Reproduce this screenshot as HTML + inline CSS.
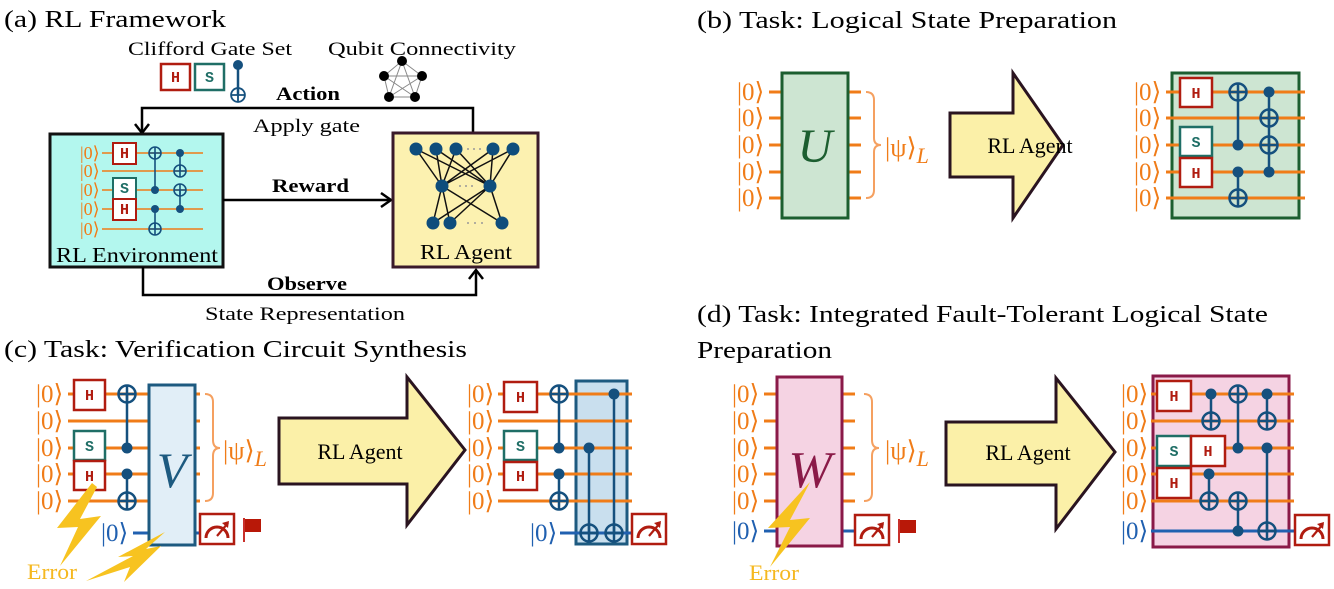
<!DOCTYPE html>
<html><head><meta charset="utf-8"><style>
html,body{margin:0;padding:0;background:#fff;}
svg{display:block;}
text{font-family:"Liberation Serif",serif;}
.g{font-family:"Liberation Mono",monospace;font-weight:bold;font-size:15px;text-anchor:middle;}
.k{font-size:25px;fill:#f07c18;}
.kb{font-size:25px;fill:#2060b0;}
.w{stroke:#f07c18;stroke-width:3;}
.wt{stroke:#f07c18;stroke-width:1.5;}
.c{stroke:#15507e;stroke-width:2.5;}
</style></head><body>
<svg width="1334" height="589" viewBox="0 0 1334 589" xmlns="http://www.w3.org/2000/svg">
<defs>
<g id="p"><circle r="8.5" fill="none" stroke="#15507e" stroke-width="2.5"/><path d="M-8.5 0H8.5M0 -8.5V8.5" stroke="#15507e" stroke-width="2.5"/></g>
<g id="d"><circle r="5.5" fill="#15507e"/></g>
<g id="ps"><circle r="6" fill="none" stroke="#15507e" stroke-width="1.6"/><path d="M-6 0H6M0 -6V6" stroke="#15507e" stroke-width="1.6"/></g>
<g id="ds"><circle r="4" fill="#15507e"/></g>
<g id="m"><rect x="0" y="0" width="34" height="30" fill="#fff" stroke="#b01c10" stroke-width="2.5"/><path d="M6 24 A11 11 0 0 1 28 24" fill="none" stroke="#b01c10" stroke-width="3"/><path d="M17 22 L28 9" stroke="#b01c10" stroke-width="2.2"/><path d="M22 9 L29 7 L28 14Z" fill="#b01c10"/></g>
<g id="f"><path d="M0 0V24" stroke="#c9302a" stroke-width="2"/><rect x="1" y="1" width="16" height="13" fill="#b81808"/></g>
</defs>

<!-- ===== (a) ===== -->
<text x="4" y="27" font-size="24" textLength="222" lengthAdjust="spacingAndGlyphs">(a) RL Framework</text>
<text x="128" y="55" font-size="19" textLength="164" lengthAdjust="spacingAndGlyphs">Clifford Gate Set</text>
<text x="328" y="55" font-size="19" textLength="188" lengthAdjust="spacingAndGlyphs">Qubit Connectivity</text>
<rect x="161" y="64" width="29" height="26" fill="#fff" stroke="#b01c10" stroke-width="2.5"/><text x="175.5" y="82" class="g" fill="#b01c10" font-size="12">H</text>
<rect x="195" y="64" width="29" height="26" fill="#fff" stroke="#1f6e66" stroke-width="2.5"/><text x="209.5" y="82" class="g" fill="#1f6e66" font-size="12">S</text>
<path d="M238 65V95" class="c"/><circle cx="238" cy="65" r="5" fill="#15507e"/><use href="#ps" transform="translate(238,95) scale(1.15)"/>
<g stroke="#888" stroke-width="1" fill="none">
<path d="M402 61L384 76L389 97L415 97L422 76Z M402 61L389 97 M402 61L415 97 M384 76L422 76 M384 76L415 97 M422 76L389 97"/>
</g>
<g fill="#000"><circle cx="402" cy="61" r="5"/><circle cx="384" cy="76" r="5"/><circle cx="422" cy="76" r="5"/><circle cx="389" cy="97" r="5"/><circle cx="415" cy="97" r="5"/></g>

<text x="276" y="100" font-size="19" font-weight="bold" textLength="64" lengthAdjust="spacingAndGlyphs">Action</text>
<path d="M473 133V108H142V132" fill="none" stroke="#000" stroke-width="2.5"/>
<path d="M135 124L142 133L149 124" fill="none" stroke="#000" stroke-width="2.5"/>
<text x="253" y="132" font-size="19" textLength="107" lengthAdjust="spacingAndGlyphs">Apply gate</text>

<rect x="50" y="134" width="173" height="133" fill="#b3f7ee" stroke="#111" stroke-width="3"/>
<g font-size="18" fill="#f07c18">
<text x="80" y="159">|0⟩</text><text x="80" y="177">|0⟩</text><text x="80" y="196">|0⟩</text><text x="80" y="215">|0⟩</text><text x="80" y="235">|0⟩</text></g>
<g class="wt"><path d="M102 153H203M102 171H203M102 190H203M102 209H203M102 229H203"/></g>
<rect x="113" y="143" width="23" height="21" fill="#fff" stroke="#b01c10" stroke-width="2"/><text x="124.5" y="158" class="g" fill="#b01c10" font-size="11">H</text>
<rect x="113" y="178" width="23" height="21" fill="#fff" stroke="#1f6e66" stroke-width="2"/><text x="124.5" y="193" class="g" fill="#1f6e66" font-size="11">S</text>
<rect x="113" y="199" width="23" height="21" fill="#fff" stroke="#b01c10" stroke-width="2"/><text x="124.5" y="214" class="g" fill="#b01c10" font-size="11">H</text>
<path d="M155 153V190M155 209V229M180 153V171M180 190V209" stroke="#15507e" stroke-width="1.6"/>
<use href="#ps" x="155" y="153"/><use href="#ds" x="155" y="190"/><use href="#ds" x="155" y="209"/><use href="#ps" x="155" y="229"/>
<use href="#ds" x="180" y="153"/><use href="#ps" x="180" y="171"/><use href="#ps" x="180" y="190"/><use href="#ds" x="180" y="209"/>
<text x="56" y="262" font-size="21" textLength="162" lengthAdjust="spacingAndGlyphs">RL Environment</text>

<path d="M223 200H390" stroke="#000" stroke-width="2.5"/><path d="M381 193L391 200L381 207" fill="none" stroke="#000" stroke-width="2.5"/>
<text x="272" y="192" font-size="19" font-weight="bold" textLength="77" lengthAdjust="spacingAndGlyphs">Reward</text>

<rect x="393" y="133" width="145" height="134" fill="#fcf1b0" stroke="#3a1a2a" stroke-width="3"/>
<g stroke="#111" stroke-width="1.5">
<path d="M416 149L442 186M436 149L442 186M456 149L442 186M493 149L442 186M513 149L442 186M416 149L490 186M436 149L490 186M456 149L490 186M493 149L490 186M513 149L490 186M442 186L433 223M442 186L450 223M442 186L502 223M490 186L433 223M490 186L450 223M490 186L502 223"/>
</g>
<g fill="#999"><circle cx="468" cy="149" r="1"/><circle cx="474" cy="149" r="1"/><circle cx="480" cy="149" r="1"/><circle cx="460" cy="186" r="1"/><circle cx="466" cy="186" r="1"/><circle cx="472" cy="186" r="1"/><circle cx="468" cy="223" r="1"/><circle cx="475" cy="223" r="1"/><circle cx="482" cy="223" r="1"/></g>
<g fill="#0e4d7c"><circle cx="416" cy="149" r="6.5"/><circle cx="436" cy="149" r="6.5"/><circle cx="456" cy="149" r="6.5"/><circle cx="493" cy="149" r="6.5"/><circle cx="513" cy="149" r="6.5"/><circle cx="442" cy="186" r="6.5"/><circle cx="490" cy="186" r="6.5"/><circle cx="433" cy="223" r="6.5"/><circle cx="450" cy="223" r="6.5"/><circle cx="502" cy="223" r="6.5"/></g>
<text x="420" y="259" font-size="21" textLength="92" lengthAdjust="spacingAndGlyphs">RL Agent</text>

<path d="M143 267V295H476V270" fill="none" stroke="#000" stroke-width="2.5"/><path d="M469 279L476 270L483 279" fill="none" stroke="#000" stroke-width="2.5"/>
<text x="267" y="290" font-size="19" font-weight="bold" textLength="80" lengthAdjust="spacingAndGlyphs">Observe</text>
<text x="205" y="320" font-size="19" textLength="200" lengthAdjust="spacingAndGlyphs">State Representation</text>

<!-- ===== (b) ===== -->
<text x="697" y="28" font-size="24" textLength="420" lengthAdjust="spacingAndGlyphs">(b) Task: Logical State Preparation</text>
<g class="k"><text x="737" y="100">|0⟩</text><text x="737" y="126">|0⟩</text><text x="737" y="153">|0⟩</text><text x="737" y="180">|0⟩</text><text x="737" y="206">|0⟩</text></g>
<g class="w"><path d="M769 92H782M769 118H782M769 145H782M769 172H782M769 198H782M848 92H861M848 118H861M848 145H861M848 172H861M848 198H861"/></g>
<rect x="782" y="73" width="66" height="145" fill="#cde5d2" stroke="#1c5e30" stroke-width="3"/>
<text x="815" y="162" font-size="48" font-style="italic" fill="#1c5e30" text-anchor="middle">U</text>
<path d="M866 92Q874 92 874 100V138Q874 145 881 145Q874 145 874 152V190Q874 198 866 198" fill="none" stroke="#f5a060" stroke-width="2"/>
<text x="885" y="156" font-size="26" fill="#f07c18">|ψ⟩<tspan font-size="22" font-style="italic" dy="7">L</tspan></text>
<path d="M950 113H1013V73L1063 145L1013 218V177H950Z" fill="#fbf0a8" stroke="#2a1420" stroke-width="3"/>
<text x="1030" y="153" font-size="22" text-anchor="middle">RL Agent</text>
<g class="k"><text x="1134" y="100">|0⟩</text><text x="1134" y="126">|0⟩</text><text x="1134" y="153">|0⟩</text><text x="1134" y="180">|0⟩</text><text x="1134" y="206">|0⟩</text></g>
<rect x="1172" y="73" width="127" height="145" fill="#cde5d2" stroke="#1c5e30" stroke-width="3"/>
<g class="w"><path d="M1166 92H1305M1166 118H1305M1166 145H1305M1166 172H1305M1166 198H1305"/></g>
<rect x="1180" y="78" width="32" height="29" fill="#fff" stroke="#b01c10" stroke-width="2.5"/><text x="1196" y="98" class="g" fill="#b01c10">H</text>
<rect x="1180" y="127" width="32" height="29" fill="#fff" stroke="#1f6e66" stroke-width="2.5"/><text x="1196" y="147" class="g" fill="#1f6e66">S</text>
<rect x="1180" y="158" width="32" height="29" fill="#fff" stroke="#b01c10" stroke-width="2.5"/><text x="1196" y="178" class="g" fill="#b01c10">H</text>
<path d="M1238 92V145M1238 172V198M1269 92V172" class="c"/>
<use href="#p" x="1238" y="92"/><use href="#d" x="1238" y="145"/><use href="#d" x="1238" y="172"/><use href="#p" x="1238" y="198"/>
<use href="#d" x="1269" y="92"/><use href="#p" x="1269" y="118"/><use href="#p" x="1269" y="145"/><use href="#d" x="1269" y="172"/>

<!-- ===== (c) ===== -->
<text x="4" y="357" font-size="24" textLength="463" lengthAdjust="spacingAndGlyphs">(c) Task: Verification Circuit Synthesis</text>
<g class="k"><text x="36" y="402">|0⟩</text><text x="36" y="429">|0⟩</text><text x="36" y="456">|0⟩</text><text x="36" y="482">|0⟩</text><text x="36" y="509">|0⟩</text></g>
<g class="w"><path d="M68 394H149M68 421H149M68 448H149M68 474H149M68 501H149M195 394H200M195 421H200M195 448H200M195 474H200M195 501H200"/></g>
<rect x="74" y="380" width="31" height="30" fill="#fff" stroke="#b01c10" stroke-width="2.5"/><text x="89.5" y="400" class="g" fill="#b01c10">H</text>
<rect x="74" y="431" width="31" height="29" fill="#fff" stroke="#1f6e66" stroke-width="2.5"/><text x="89.5" y="451" class="g" fill="#1f6e66">S</text>
<rect x="74" y="461" width="31" height="29" fill="#fff" stroke="#b01c10" stroke-width="2.5"/><text x="89.5" y="481" class="g" fill="#b01c10">H</text>
<path d="M127 394V448M127 474V501" class="c"/>
<use href="#p" x="127" y="394"/><use href="#d" x="127" y="448"/><use href="#d" x="127" y="474"/><use href="#p" x="127" y="501"/>
<text x="101" y="541" class="kb">|0⟩</text>
<path d="M133 533H149M195 533H200" stroke="#2060b0" stroke-width="3"/>
<rect x="149" y="385" width="46" height="160" fill="#e1eef7" stroke="#1d5a80" stroke-width="3"/>
<text x="172" y="487" font-size="50" font-style="italic" fill="#1d5a80" text-anchor="middle">V</text>
<path d="M205 394Q213 394 213 402V440Q213 448 220 448Q213 448 213 456V493Q213 501 205 501" fill="none" stroke="#f5a060" stroke-width="2"/>
<text x="223" y="459" font-size="26" fill="#f07c18">|ψ⟩<tspan font-size="22" font-style="italic" dy="7">L</tspan></text>
<use href="#m" x="200" y="514"/>
<use href="#f" x="244" y="518"/>
<path d="M92 483L57 528L78 527L60 566L101 516L80 519L97 487Z" fill="#f7c320"/>
<path d="M165 532L118 557L133 556L86 581L130 567L124 582L161 546L146 549Z" fill="#f7c320"/>
<text x="27" y="579" font-size="22" fill="#f5b820" textLength="50" lengthAdjust="spacingAndGlyphs">Error</text>

<path d="M279 418H407V377L465 450L407 525V484H279Z" fill="#fbf0a8" stroke="#2a1420" stroke-width="3"/>
<text x="360" y="459" font-size="22" text-anchor="middle">RL Agent</text>

<g class="k"><text x="467" y="402">|0⟩</text><text x="467" y="429">|0⟩</text><text x="467" y="456">|0⟩</text><text x="467" y="482">|0⟩</text><text x="467" y="509">|0⟩</text></g>
<rect x="576" y="381" width="51" height="163" fill="#c9dfee" stroke="#1d5a80" stroke-width="3"/>
<g class="w"><path d="M498 394H632M498 421H632M498 448H632M498 474H632M498 501H632"/></g>
<rect x="504" y="382" width="33" height="30" fill="#fff" stroke="#b01c10" stroke-width="2.5"/><text x="520.5" y="402" class="g" fill="#b01c10">H</text>
<rect x="504" y="431" width="33" height="29" fill="#fff" stroke="#1f6e66" stroke-width="2.5"/><text x="520.5" y="451" class="g" fill="#1f6e66">S</text>
<rect x="504" y="462" width="33" height="28" fill="#fff" stroke="#b01c10" stroke-width="2.5"/><text x="520.5" y="481" class="g" fill="#b01c10">H</text>
<path d="M559 394V448M559 474V501M589 448V533M614 394V533" class="c"/>
<use href="#p" x="559" y="394"/><use href="#d" x="559" y="448"/><use href="#d" x="559" y="474"/><use href="#p" x="559" y="501"/>
<text x="530" y="541" class="kb">|0⟩</text>
<path d="M560 533H632" stroke="#2060b0" stroke-width="3"/>
<use href="#d" x="589" y="448"/><use href="#p" x="589" y="533"/><use href="#d" x="614" y="394"/><use href="#p" x="614" y="533"/>
<use href="#m" x="632" y="514"/>

<!-- ===== (d) ===== -->
<text x="697" y="322" font-size="24" textLength="571" lengthAdjust="spacingAndGlyphs">(d) Task: Integrated Fault-Tolerant Logical State</text>
<text x="697" y="358" font-size="24" textLength="135" lengthAdjust="spacingAndGlyphs">Preparation</text>
<g class="k"><text x="732" y="402">|0⟩</text><text x="732" y="429">|0⟩</text><text x="732" y="456">|0⟩</text><text x="732" y="482">|0⟩</text><text x="732" y="509">|0⟩</text></g>
<g class="w"><path d="M764 394H777M764 421H777M764 448H777M764 474H777M764 501H777M842 394H855M842 421H855M842 448H855M842 474H855M842 501H855"/></g>
<text x="732" y="539" class="kb">|0⟩</text>
<path d="M764 531H777M842 531H856" stroke="#2060b0" stroke-width="3"/>
<rect x="777" y="377" width="65" height="169" fill="#f5d3e3" stroke="#8a1a48" stroke-width="3"/>
<text x="810" y="487" font-size="52" font-style="italic" fill="#8a1a48" text-anchor="middle">W</text>
<path d="M864 394Q872 394 872 402V440Q872 448 879 448Q872 448 872 456V493Q872 501 864 501" fill="none" stroke="#f5a060" stroke-width="2"/>
<text x="885" y="459" font-size="26" fill="#f07c18">|ψ⟩<tspan font-size="22" font-style="italic" dy="7">L</tspan></text>
<use href="#m" x="855" y="515"/>
<use href="#f" x="899" y="519"/>
<path d="M810 482L768 528L790 527L770 567L810 518L790 520L806 490Z" fill="#f7c320"/>
<text x="749" y="580" font-size="22" fill="#f5b820" textLength="50" lengthAdjust="spacingAndGlyphs">Error</text>

<path d="M946 422H1056V378L1115 452L1056 529V485H946Z" fill="#fbf0a8" stroke="#2a1420" stroke-width="3"/>
<text x="1028" y="460" font-size="22" text-anchor="middle">RL Agent</text>

<g class="k"><text x="1121" y="402">|0⟩</text><text x="1121" y="429">|0⟩</text><text x="1121" y="456">|0⟩</text><text x="1121" y="482">|0⟩</text><text x="1121" y="509">|0⟩</text></g>
<text x="1121" y="539" class="kb">|0⟩</text>
<rect x="1153" y="376" width="136" height="171" fill="#f5d3e3" stroke="#8a1a48" stroke-width="3"/>
<g class="w"><path d="M1151 394H1294M1151 421H1294M1151 448H1294M1151 474H1294M1151 501H1294"/></g>
<path d="M1151 531H1296" stroke="#2060b0" stroke-width="3"/>
<rect x="1157" y="381" width="34" height="30" fill="#fff" stroke="#b01c10" stroke-width="2.5"/><text x="1174" y="401" class="g" fill="#b01c10">H</text>
<rect x="1157" y="436" width="34" height="30" fill="#fff" stroke="#1f6e66" stroke-width="2.5"/><text x="1174" y="456" class="g" fill="#1f6e66">S</text>
<rect x="1191" y="436" width="34" height="30" fill="#fff" stroke="#b01c10" stroke-width="2.5"/><text x="1208" y="456" class="g" fill="#b01c10">H</text>
<rect x="1157" y="468" width="34" height="30" fill="#fff" stroke="#b01c10" stroke-width="2.5"/><text x="1174" y="488" class="g" fill="#b01c10">H</text>
<path d="M1211 394V421M1209 474V501M1238 394V448M1238 501V531M1267 394V421M1267 448V531" class="c"/>
<use href="#d" x="1211" y="394"/><use href="#p" x="1211" y="421"/><use href="#d" x="1209" y="474"/><use href="#p" x="1209" y="501"/>
<use href="#p" x="1238" y="394"/><use href="#d" x="1238" y="448"/><use href="#p" x="1238" y="501"/><use href="#d" x="1238" y="531"/>
<use href="#d" x="1267" y="394"/><use href="#p" x="1267" y="421"/><use href="#d" x="1267" y="448"/><use href="#p" x="1267" y="531"/>
<use href="#m" x="1295" y="515"/>
</svg>
</body></html>
